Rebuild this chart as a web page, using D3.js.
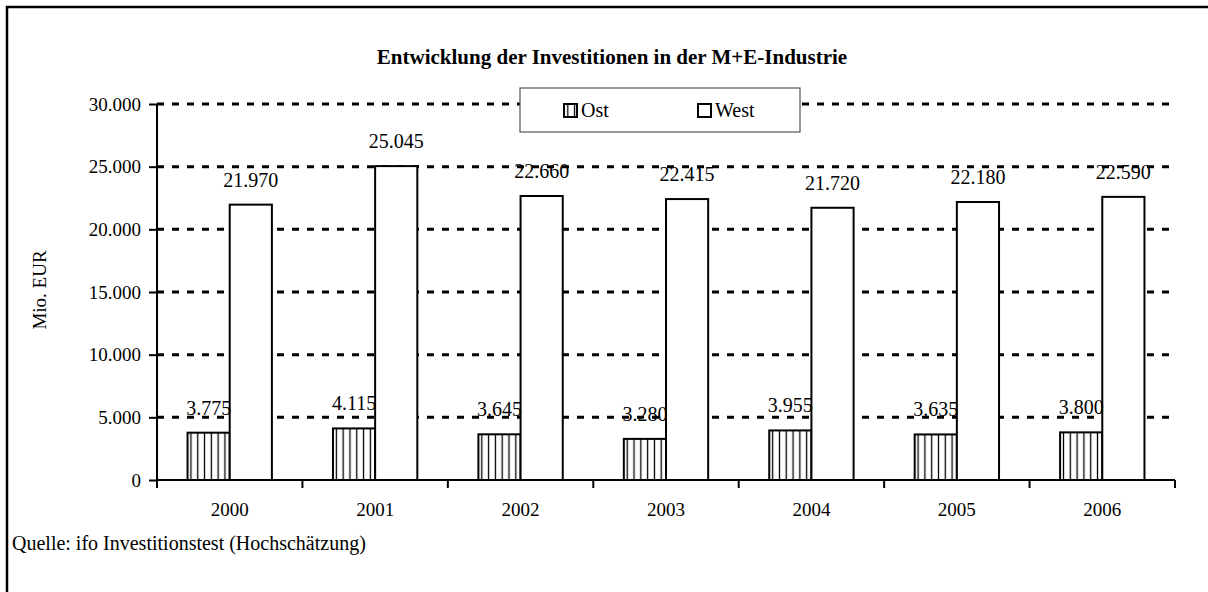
<!DOCTYPE html>
<html>
<head>
<meta charset="utf-8">
<script src="https://cdn.jsdelivr.net/npm/d3@7"></script>
<style>
  body { margin: 0; background: #fff; }
  text { font-family: "Liberation Serif", "Times New Roman", serif; fill: #000; }
</style>
</head>
<body>
<div id="chart-area"></div>
<script>
// chart data
const years = ["2000", "2001", "2002", "2003", "2004", "2005", "2006"];
const seriesNames = ["Ost", "West"];
const ostValues = [3775, 4115, 3645, 3280, 3955, 3635, 3800];
const westValues = [21970, 25045, 22660, 22415, 21720, 22180, 22590];
const yTicks = [0, 5000, 10000, 15000, 20000, 25000, 30000];

const WIDTH = 1208;
const HEIGHT = 592;

const de = d3.formatLocale({decimal: ",", thousands: ".", grouping: [3], currency: ["", " €"]});
const fmt = de.format(",d");

const svg = d3.select("#chart-area").append("svg")
    .attr("width", WIDTH)
    .attr("height", HEIGHT);

// pattern for the Ost bars (vertical hatching)
const defs = svg.append("defs");
const pat = defs.append("pattern")
    .attr("id", "hatch")
    .attr("patternUnits", "userSpaceOnUse")
    .attr("width", 6.8)
    .attr("height", 10);
pat.append("rect").attr("width", 6.8).attr("height", 10).attr("fill", "#fff");
pat.append("line")
    .attr("x1", 3.4).attr("x2", 3.4).attr("y1", 0).attr("y2", 10)
    .attr("stroke", "#000").attr("stroke-width", 1.3);

// outer frame (runs off the right / bottom edge)
svg.append("rect")
    .attr("x", 7).attr("y", 7)
    .attr("width", 1220).attr("height", 620)
    .attr("fill", "none").attr("stroke", "#000").attr("stroke-width", 2.5);

const plotLeft = 157, plotRight = 1175, plotTop = 104, plotBottom = 480;

const x = d3.scaleBand()
    .domain(years)
    .range([plotLeft, plotRight])
    .paddingInner(0.42)
    .paddingOuter(0.21);

const xSub = d3.scaleBand()
    .domain(seriesNames)
    .range([0, x.bandwidth()]);

const y = d3.scaleLinear()
    .domain([0, 30000])
    .range([plotBottom, plotTop]);

// title
svg.append("text")
    .attr("x", 612).attr("y", 64)
    .attr("text-anchor", "middle")
    .style("font-size", "21px")
    .style("font-weight", "bold")
    .text("Entwicklung der Investitionen in der M+E-Industrie");

// gridlines
svg.append("g").selectAll("line")
    .data(yTicks.filter(d => d > 0))
    .enter().append("line")
    .attr("x1", plotLeft).attr("x2", plotRight)
    .attr("y1", d => y(d)).attr("y2", d => y(d))
    .attr("stroke", "#000")
    .attr("stroke-width", 3)
    .attr("stroke-dasharray", "7,8");

// bars
const data = years.map((yr, i) => ({year: yr, Ost: ostValues[i], West: westValues[i]}));

const groups = svg.append("g").selectAll("g")
    .data(data)
    .enter().append("g")
    .attr("transform", d => `translate(${x(d.year)},0)`);

groups.selectAll("rect")
    .data(d => seriesNames.map(s => ({key: s, value: d[s]})))
    .enter().append("rect")
    .attr("x", d => xSub(d.key))
    .attr("y", d => y(d.value))
    .attr("width", xSub.bandwidth())
    .attr("height", d => y(0) - y(d.value))
    .attr("fill", d => d.key === "Ost" ? "url(#hatch)" : "#fff")
    .attr("stroke", "#000")
    .attr("stroke-width", 2);

groups.selectAll("text.val")
    .data(d => seriesNames.map(s => ({key: s, value: d[s]})))
    .enter().append("text")
    .attr("class", "val")
    .attr("x", d => xSub(d.key) + xSub.bandwidth() / 2)
    .attr("y", d => y(d.value) - 18)
    .attr("text-anchor", "middle")
    .style("font-size", "20px")
    .text(d => fmt(d.value));

// y axis
const yAxis = svg.append("g")
    .attr("transform", `translate(${plotLeft},0)`)
    .call(d3.axisLeft(y).tickValues(yTicks).tickSize(8).tickPadding(8).tickFormat(fmt));
yAxis.select(".domain").attr("stroke", "#000").attr("stroke-width", 2).attr("d", `M0,${plotTop}V${plotBottom}`);
yAxis.selectAll(".tick line").attr("stroke", "#000").attr("stroke-width", 2);
yAxis.selectAll(".tick text")
    .style("font-family", "Liberation Serif, Times New Roman, serif")
    .style("font-size", "19px").attr("fill", "#000");

// x axis: ticks sit at the category boundaries
const step = x.step();
const boundaries = d3.range(years.length + 1).map(i => plotLeft + i * step);
svg.append("line")
    .attr("x1", plotLeft).attr("x2", plotRight)
    .attr("y1", plotBottom).attr("y2", plotBottom)
    .attr("stroke", "#000").attr("stroke-width", 2);
svg.append("g").selectAll("line")
    .data(boundaries)
    .enter().append("line")
    .attr("x1", d => d).attr("x2", d => d)
    .attr("y1", plotBottom).attr("y2", plotBottom + 8)
    .attr("stroke", "#000").attr("stroke-width", 2);
svg.append("g").selectAll("text")
    .data(years)
    .enter().append("text")
    .attr("x", d => x(d) + x.bandwidth() / 2)
    .attr("y", 516)
    .attr("text-anchor", "middle")
    .style("font-size", "19px")
    .text(d => d);

// y axis label
svg.append("text")
    .attr("transform", "translate(46,290) rotate(-90)")
    .attr("text-anchor", "middle")
    .style("font-size", "19px")
    .text("Mio. EUR");

// legend
const legend = svg.append("g");
legend.append("rect")
    .attr("x", 520).attr("y", 88)
    .attr("width", 280).attr("height", 44)
    .attr("fill", "#fff").attr("stroke", "#555").attr("stroke-width", 1.2);
const legX = [564, 698];
seriesNames.forEach((s, i) => {
    legend.append("rect")
        .attr("x", legX[i]).attr("y", 104)
        .attr("width", 13).attr("height", 13)
        .attr("fill", s === "Ost" ? "url(#hatch)" : "#fff")
        .attr("stroke", "#000").attr("stroke-width", 2);
    legend.append("text")
        .attr("x", legX[i] + 17).attr("y", 117)
        .style("font-size", "20px")
        .text(s);
});

// source
svg.append("text")
    .attr("x", 12).attr("y", 550)
    .style("font-size", "20px")
    .text("Quelle: ifo Investitionstest (Hochschätzung)");
</script>
</body>
</html>
